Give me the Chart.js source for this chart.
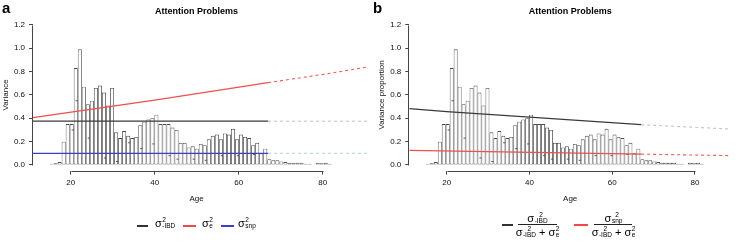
<!DOCTYPE html>
<html><head><meta charset="utf-8">
<script src="https://cdn.jsdelivr.net/npm/chart.js@4.4.0/dist/chart.umd.min.js"></script>
<style>
html,body{margin:0;padding:0;background:#fff;}
body{width:736px;height:242px;position:relative;overflow:hidden;font-family:"Liberation Sans",Arial,sans-serif;color:#000;}
canvas{position:absolute;top:0;}
#ca{left:0;} #cb{left:370px;}
.pl{position:absolute;font-weight:bold;font-size:15px;line-height:15px;color:#000;}
.sw{position:absolute;height:2px;}
.sg{position:absolute;white-space:nowrap;line-height:12px;font-size:11px;}
.st{display:inline-block;vertical-align:top;font-size:6.5px;line-height:6px;margin-left:0.5px;}
.st span{display:block;}
.fr{position:absolute;text-align:center;white-space:nowrap;line-height:12px;font-size:11px;}
.bar{position:absolute;height:0;border-top:1px solid #222;}
</style></head>
<body>
<canvas id="ca" width="370" height="242"></canvas>
<canvas id="cb" width="366" height="242"></canvas>
<div class="pl" style="left:2px;top:0px">a</div>
<div class="pl" style="left:373px;top:0px">b</div>

<!-- legend a -->
<div class="sw" style="left:137px;top:224.5px;width:11px;background:#333"></div>
<div class="sg" style="left:155px;top:217px">σ<span class="st"><span>2</span><span>-IBD</span></span></div>
<div class="sw" style="left:183px;top:224.5px;width:13px;background:#f04848"></div>
<div class="sg" style="left:202px;top:217px">σ<span class="st"><span>2</span><span>e</span></span></div>
<div class="sw" style="left:221px;top:224.5px;width:13px;background:#3c3cd8"></div>
<div class="sg" style="left:238px;top:217px">σ<span class="st"><span>2</span><span>snp</span></span></div>

<!-- legend b -->
<div class="sw" style="left:502px;top:223.5px;width:11px;background:#333"></div>
<div class="fr" style="left:515px;top:212px;width:45px">σ<span class="st"><span>2</span><span>-IBD</span></span></div>
<div class="bar" style="left:518px;top:224px;width:39px"></div>
<div class="fr" style="left:512px;top:226px;width:51px">σ<span class="st"><span>2</span><span>-IBD</span></span> + σ<span class="st"><span>2</span><span>e</span></span></div>
<div class="sw" style="left:574px;top:223.5px;width:14px;background:#f04848"></div>
<div class="fr" style="left:592px;top:212px;width:43px">σ<span class="st"><span>2</span><span>snp</span></span></div>
<div class="bar" style="left:594px;top:224px;width:38px"></div>
<div class="fr" style="left:588px;top:226px;width:51px">σ<span class="st"><span>2</span><span>-IBD</span></span> + σ<span class="st"><span>2</span><span>e</span></span></div>

<script>
// ---------- data ----------
const histStart = 14;          // left edge of first age bin
const histBinWidth = 0.96;     // bin width in years
const histHeights = [0.005,0.01,0.015,0.025,0.20,0.35,0.35,0.83,0.99,0.67,
  0.52,0.55,0.66,0.68,0.62,0.51,0.66,0.28,0.23,0.29,
  0.25,0.23,0.24,0.34,0.37,0.39,0.40,0.43,0.35,0.35,
  0.35,0.32,0.30,0.19,0.19,0.15,0.16,0.14,0.18,0.17,
  0.22,0.25,0.26,0.22,0.27,0.26,0.31,0.22,0.26,0.24,
  0.23,0.17,0.19,0.10,0.14,0.05,0.04,0.04,0.03,0.025,
  0.02,0.02,0.02,0.02,0.01,0.01,0.005,0.02,0.015,0.02,
  0.01,0.005,0.005,0.005,0.005];
// short inner marks seen inside some bins (null = none)
const histInner = [null,null,null,null,null,null,0.30,0.55,null,null,
  0.23,null,null,null,0.06,null,null,0.03,null,null,
  0.19,null,null,0.14,null,null,0.18,null,null,null,
  0.08,null,0.05,null,null,null,0.05,null,null,0.04,
  null,null,null,0.08,null,null,null,0.08,null,null,
  null,0.09,null,null,null,null,null,null,null,null,
  null,null,null,null,null,null,null,null,null,null,
  null,null,null,null,null];
const ageTicks = [20, 40, 60, 80];
const yTicks = [0, 0.2, 0.4, 0.6, 0.8, 1.0, 1.2];

// panel a: variance components (solid = observed range, dashed = extrapolation)
const aIbdAges = [11, 67],           aIbdVals = [0.375, 0.375];
const aIbdExtAges = [67, 90.7],      aIbdExtVals = [0.375, 0.375];
const aEAges = [11, 40, 67],         aEVals = [0.405, 0.555, 0.705];
const aEExtAges = [67, 80, 90.9],    aEExtVals = [0.705, 0.775, 0.84];
const aSnpAges = [11, 67],           aSnpVals = [0.10, 0.10];
const aSnpExtAges = [67, 90.7],      aSnpExtVals = [0.10, 0.10];
// panel b: variance proportions
const bIbdAges = [11, 20, 40, 67],   bIbdVals = [0.483, 0.456, 0.41, 0.345];
const bIbdExtAges = [67, 88.5],      bIbdExtVals = [0.345, 0.308];
const bSnpAges = [11, 67],           bSnpVals = [0.125, 0.093];
const bSnpExtAges = [67, 88.5],      bSnpExtVals = [0.093, 0.08];

// ---------- helpers ----------
const FONT = '"Liberation Sans", Arial, sans-serif';
const pts = (xs, ys) => xs.map((x, i) => ({x, y: ys[i]}));
const histData = histHeights.map((h, i) => ({x: histStart + (i + 0.5) * histBinWidth, y: h}));
const innerData = histInner.map((h, i) => h === null ? null : ({x: histStart + (i + 0.75) * histBinWidth, y: h})).filter(p => p);

function lineDs(data, color, dashed) {
  return {type: 'line', data, borderColor: color, borderWidth: dashed ? 1.1 : 1.3,
    borderDash: dashed ? [3, 3] : [], pointRadius: 0, fill: false, tension: 0,
    clip: false, order: 0};
}

const rAxes = {
  id: 'rAxes',
  afterDraw(chart) {
    const {ctx, chartArea, scales: {x, y}} = chart;
    ctx.save();
    ctx.strokeStyle = '#444'; ctx.lineWidth = 1;
    ctx.beginPath();
    const yb = Math.round(chartArea.bottom) + 0.5;
    ctx.moveTo(Math.round(x.getPixelForValue(ageTicks[0])) + 0.5, yb);
    ctx.lineTo(Math.round(x.getPixelForValue(ageTicks[ageTicks.length - 1])) + 0.5, yb);
    const xl = Math.round(chartArea.left) - 0.5;
    ctx.moveTo(xl, Math.round(y.getPixelForValue(yTicks[0])) + 0.5);
    ctx.lineTo(xl, Math.round(y.getPixelForValue(yTicks[yTicks.length - 1])) + 0.5);
    ctx.stroke();
    ctx.restore();
  }
};

function makeChart(id, lines, cfg) {
  return new Chart(document.getElementById(id), {
    type: 'bar',
    data: {datasets: [
      {type: 'bar', data: histData, backgroundColor: '#ffffff', borderColor: '#4a4a4a',
       borderWidth: 0.85, borderSkipped: false, categoryPercentage: 1, barPercentage: 1,
       inflateAmount: 0, order: 2},
      {type: 'line', data: innerData, showLine: false, pointStyle: 'line', pointRadius: 1.1,
       pointBorderColor: '#4a4a4a', pointBorderWidth: 0.9, order: 1},
      ...lines
    ]},
    plugins: [rAxes],
    options: {
      responsive: false, animation: false, devicePixelRatio: 1,
      layout: {padding: {left: 0, right: cfg.padRight, top: 0, bottom: 35.4}},
      plugins: {
        legend: {display: false}, tooltip: {enabled: false},
        title: {display: true, text: 'Attention Problems', fullSize: false, color: '#000',
          font: {family: FONT, size: 9, weight: 'bold'}, padding: {top: 6.6, bottom: 1.8}}
      },
      scales: {
        x: {type: 'linear', min: cfg.xMin, max: cfg.xMax, offset: false,
          afterBuildTicks: s => { s.ticks = ageTicks.map(v => ({value: v})); },
          afterFit: s => { s.height = 36; },
          grid: {display: true, drawOnChartArea: false, drawTicks: true, tickLength: 4, color: '#444', offset: false},
          border: {display: false},
          ticks: {padding: 3, color: '#111', font: {family: FONT, size: 8}, maxRotation: 0, autoSkip: false},
          title: {display: true, text: 'Age', color: '#111', font: {family: FONT, size: 8}, padding: {top: 0, bottom: 2.6}}
        },
        y: {type: 'linear', min: -0.048, max: 1.248,
          afterBuildTicks: s => { s.ticks = yTicks.map(v => ({value: v})); },
          afterFit: s => { s.width = cfg.yWidth; },
          grid: {display: true, drawOnChartArea: false, drawTicks: true, tickLength: 4, color: '#444'},
          border: {display: false},
          ticks: {padding: 4, color: '#111', font: {family: FONT, size: 8}, callback: v => Number(v).toFixed(1)},
          title: {display: true, text: cfg.yTitle, color: '#111', font: {family: FONT, size: 8}, padding: {top: cfg.yTitlePad, bottom: 0}}
        }
      }
    }
  });
}

makeChart('ca', [
  lineDs(pts(aIbdAges, aIbdVals), '#3a3a3a', false),
  lineDs(pts(aIbdExtAges, aIbdExtVals), '#c4c4c4', true),
  lineDs(pts(aEAges, aEVals), '#ee4f4f', false),
  lineDs(pts(aEExtAges, aEExtVals), '#ee5a5a', true),
  lineDs(pts(aSnpAges, aSnpVals), '#3c3cd2', false),
  lineDs(pts(aSnpExtAges, aSnpExtVals), '#b4dcd4', true)
], {xMin: 11.02, xMax: 88.88, padRight: 10, yWidth: 33, yTitle: 'Variance', yTitlePad: 1});

makeChart('cb', [
  lineDs(pts(bIbdAges, bIbdVals), '#3a3a3a', false),
  lineDs(pts(bIbdExtAges, bIbdExtVals), '#c4c4c4', true),
  lineDs(pts(bSnpAges, bSnpVals), '#ee4f4f', false),
  lineDs(pts(bSnpExtAges, bSnpExtVals), '#ee5a5a', true)
], {xMin: 10.95, xMax: 88.74, padRight: 0, yWidth: 39.3, yTitle: 'Variance proportion', yTitlePad: 6.7});
</script>
</body></html>
